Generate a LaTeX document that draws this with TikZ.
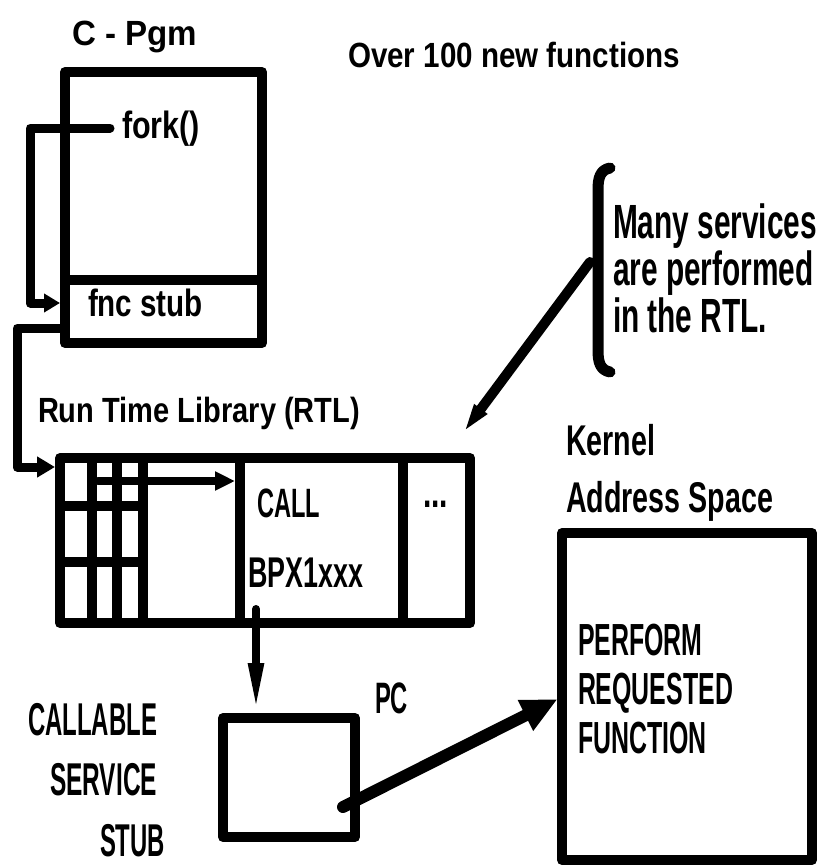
\documentclass[tikz,border=0pt]{standalone}
\usepackage{fontspec}
\setmainfont{Liberation Sans}
\usetikzlibrary{arrows.meta}
\newcommand\fitw[2]{\resizebox{#1}{\height}{#2}}
\newcommand\mlines[3]{\resizebox{#1}{\height}{\vtop{\baselineskip=#2\lineskiplimit=-100pt\relax #3}}}
\begin{document}
\begin{tikzpicture}[x=1pt,y=-1pt, line join=round,
  box/.style={draw, line width=10pt, inner sep=0pt, outer sep=0pt},
  conn/.style={line width=9pt, line cap=round},
  txt/.style={inner sep=0pt, outer sep=0pt, anchor=base west},
  fs/.style={font=\fontsize{#1}{#1}\selectfont\bfseries}
]
\useasboundingbox (0,0) rectangle (822,865);

% C program box
\node[box, minimum width=197pt, minimum height=271pt] (cpgm) at (163.5,207.5) {};
\draw[line width=10pt] (cpgm.west |- 0,280) -- (cpgm.east |- 0,280);
\node[txt, fs=35] (cpgmlbl) at (72,45) {\fitw{125pt}{C - Pgm}};
\node[txt, fs=38] (fork) at (122,138) {\fitw{78pt}{fork()}};
\node[txt, fs=38] (stub) at (88,316) {\fitw{115pt}{fnc stub}};
\node[txt, fs=35] (over) at (348,67) {\fitw{332pt}{Over 100 new functions}};

\coordinate (forkdot) at (110,128);
\draw[conn, shorten >=5pt, -{Triangle[length=16pt,width=18pt]}]
  (forkdot) -- (30,128) -- (30,303) -- (cpgm.west |- 0,303);

% Run time library
\node[box, minimum width=410pt, minimum height=165pt] (rtl) at (265,540.5) {};
\foreach \x in {92,117,143,240,403}
  \draw[line width=10pt] (rtl.north -| \x,0) -- (rtl.south -| \x,0);
\foreach \y in {506,562}
  \draw[line width=10pt] (rtl.west |- 0,\y) -- (143,\y);
\node[txt, fs=35] (rtllbl) at (38,422) {\fitw{322pt}{Run Time Library (RTL)}};
\node[txt, fs=41] (call) at (257,517) {\fitw{63pt}{CALL}};
\node[txt, fs=43] (bpx) at (248,587) {\fitw{115pt}{BPX1xxx}};
\node[txt, fs=43] (dots) at (423,507) {\fitw{25pt}{...}};

\draw[conn, shorten >=5pt, -{Triangle[length=18pt,width=20pt]}]
  (cpgm.west |- 0,328) -- (17,328) -- (17,467) -- (rtl.west |- 0,467);

\coordinate (gridpt) at (98,481);
\coordinate (callcell) at (240,481);
\draw[line width=8pt, line cap=round, shorten >=5pt, -{Triangle[length=20pt,width=18pt]}]
  (gridpt) -- (callcell);

% callable service stub
\node[box, minimum width=132pt, minimum height=119pt] (stubbox) at (289,777.5) {};
\node[txt, fs=44] (pc) at (375,713) {\fitw{33pt}{PC}};
\node[txt, fs=46] (callable) at (28,735) {\fitw{129pt}{CALLABLE}};
\node[txt, fs=46] (service) at (50,795) {\fitw{107pt}{SERVICE}};
\node[txt, fs=46] (stubt) at (100,856) {\fitw{65pt}{STUB}};

\coordinate (bpxdot) at (256,609);
\draw[line width=8pt, line cap=round, shorten >=5pt, -{Triangle[length=50pt,width=14pt]}]
  (bpxdot) -- (stubbox.north -| bpxdot);

% kernel
\node[box, minimum width=250pt, minimum height=327pt] (kernel) at (687,696.5) {};
\node[txt, fs=43] (kernlbl) at (566,455)
  {\mlines{207pt}{57pt}{\hbox{Kernel}\hbox{Address Space}}};
\node[txt, fs=45] (perform) at (578,655)
  {\mlines{155pt}{49pt}{\hbox{PERFORM}\hbox{REQUESTED}\hbox{FUNCTION}}};

\coordinate (pcdot) at (343,807);
\draw[line width=12pt, line cap=round, shorten >=5pt, -{Triangle[length=36pt,width=32pt]}]
  (pcdot) -- (kernel.west |- 0,697);

% note with bracket
\draw[line width=11pt, line cap=round]
  (610,168) .. controls (600,170) and (598,178) .. (598,190) -- (598,350)
  .. controls (598,362) and (600,370) .. (610,372);
\node[txt, fs=48] (note) at (613,238)
  {\mlines{204pt}{47pt}{\hbox{Many services}\hbox{are performed}\hbox{in the RTL.}}};
\coordinate (brk) at (590,262);
\coordinate (rtlnote) at (463,433);
\draw[line width=10pt, line cap=round, -{Triangle[length=30pt,width=14pt]}]
  (brk) -- (rtlnote);
\end{tikzpicture}
\end{document}
